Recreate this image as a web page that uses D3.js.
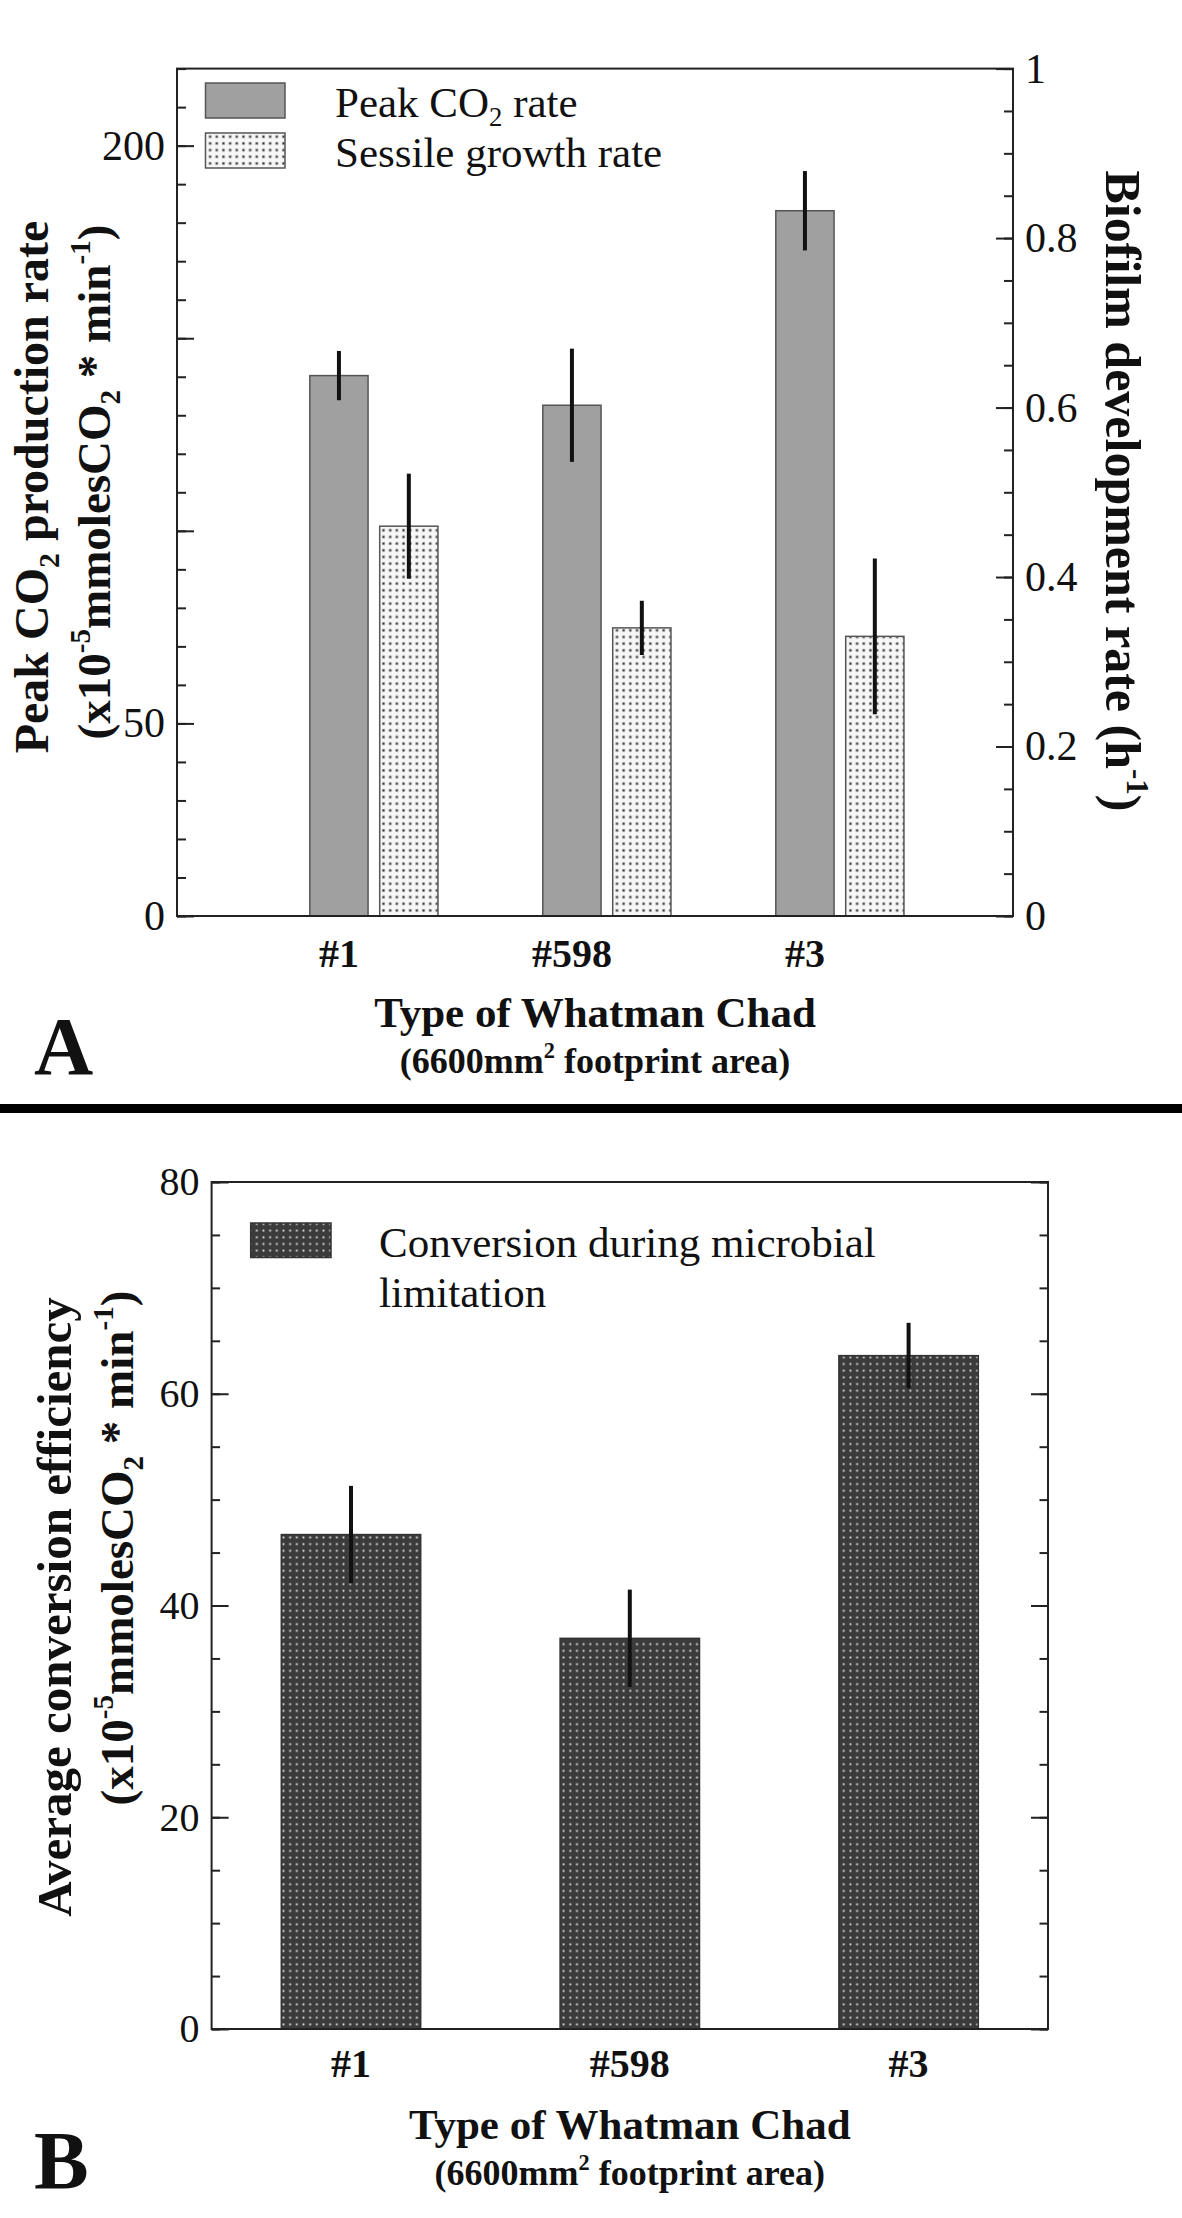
<!DOCTYPE html>
<html><head><meta charset="utf-8">
<script src="https://cdn.jsdelivr.net/npm/d3@7"></script>
<style>
html,body{margin:0;padding:0;background:#fff;}
svg{display:block;}
text{font-family:"Liberation Serif","Times New Roman",serif;fill:#111;}
</style></head><body>
<svg id="chart" width="1182" height="2218"></svg>
<script>
// ---------- data ----------
const categories = ["#1", "#598", "#3"];
const peakCO2Rate = [140.3, 132.6, 183.1];
const peakCO2Err = [6.4, 14.7, 10.3];
const sessileGrowthRate = [0.46, 0.34, 0.33];
const sessileGrowthErr = [0.062, 0.032, 0.092];
const conversionEff = [46.7, 36.9, 63.6];
const conversionErr = [4.6, 4.6, 3.1];
const leftMajorTicksA = [0, 50, 100, 150, 200];
const leftTickLabelsA = [0, 50, 200];
const rightTickLabelsA = [0, 0.2, 0.4, 0.6, 0.8, 1];
const tickLabelsB = [0, 20, 40, 60, 80];
const legendA = ["Peak CO2 rate", "Sessile growth rate"];
const legendB = ["Conversion during microbial", "limitation"];

const svg = d3.select("#chart");
const defs = svg.append("defs");

// patterns
const P = 6.67;
const pDot = defs.append("pattern").attr("id", "dotsLight").attr("patternUnits", "userSpaceOnUse")
  .attr("width", P).attr("height", P);
pDot.append("rect").attr("width", P).attr("height", P).attr("fill", "#f7f7f7");
pDot.append("rect").attr("x", P / 2 - 1.6).attr("y", P / 2 - 1.6).attr("width", 3.2).attr("height", 3.2).attr("fill", "#c4c4c4");
pDot.append("rect").attr("x", P / 2 - 0.9).attr("y", P / 2 - 0.9).attr("width", 1.8).attr("height", 1.8).attr("fill", "#222");

const pDark = defs.append("pattern").attr("id", "dotsDark").attr("patternUnits", "userSpaceOnUse")
  .attr("width", P).attr("height", P);
pDark.append("rect").attr("width", P).attr("height", P).attr("fill", "#3b3b3b");
pDark.append("rect").attr("x", P / 2 - 0.9).attr("y", P / 2 - 0.9).attr("width", 1.8).attr("height", 1.8).attr("fill", "#e8e8e8");

// rich text helper (sub / superscripts)
function rich(sel, parts, fs) {
  let shift = 0;
  parts.forEach(p => {
    const s = typeof p === "string" ? p : p[0];
    const kind = typeof p === "string" ? "n" : p[1];
    const target = kind === "sup" ? -0.42 * fs : kind === "sub" ? 0.22 * fs : 0;
    const t = sel.append("tspan").text(s);
    if (target - shift !== 0) t.attr("dy", target - shift);
    if (kind !== "n") t.attr("font-size", fs * 0.62);
    shift = target;
  });
}
const unitParts = ["(x10", ["-5", "sup"], "mmolesCO", ["2", "sub"], " * min", ["-1", "sup"], ")"];

// =============== PANEL A ===============
const A = {l: 177, r: 1013, t: 68.6, b: 916};
const xA = d3.scaleLinear().domain([-0.695, 2.893]).range([A.l, A.r]);
const yAL = d3.scaleLinear().domain([0, 220]).range([A.b, A.t]);
const yAR = d3.scaleLinear().domain([0, 1]).range([A.b, A.t]);
const bwA = xA(0.25) - xA(0);
const offA = 0.30;

const gA = svg.append("g");

// bars
gA.selectAll("rect.peak").data(peakCO2Rate).join("rect").attr("class", "peak")
  .attr("x", (d, i) => xA(i) - bwA / 2).attr("width", bwA)
  .attr("y", d => yAL(d)).attr("height", d => yAL(0) - yAL(d))
  .attr("fill", "#a0a0a0").attr("stroke", "#555").attr("stroke-width", 1.5);
gA.selectAll("rect.sess").data(sessileGrowthRate).join("rect").attr("class", "sess")
  .attr("x", (d, i) => xA(i + offA) - bwA / 2).attr("width", bwA)
  .attr("y", d => yAR(d)).attr("height", d => yAR(0) - yAR(d))
  .attr("fill", "url(#dotsLight)").attr("stroke", "#555").attr("stroke-width", 1.5);

// error bars
gA.selectAll("line.peakErr").data(peakCO2Rate).join("line").attr("class", "peakErr")
  .attr("x1", (d, i) => xA(i)).attr("x2", (d, i) => xA(i))
  .attr("y1", (d, i) => yAL(d - peakCO2Err[i])).attr("y2", (d, i) => yAL(d + peakCO2Err[i]))
  .attr("stroke", "#111").attr("stroke-width", 4);
gA.selectAll("line.sessErr").data(sessileGrowthRate).join("line").attr("class", "sessErr")
  .attr("x1", (d, i) => xA(i + offA)).attr("x2", (d, i) => xA(i + offA))
  .attr("y1", (d, i) => yAR(d - sessileGrowthErr[i])).attr("y2", (d, i) => yAR(d + sessileGrowthErr[i]))
  .attr("stroke", "#111").attr("stroke-width", 4);

// axes (inside ticks)
function styleAxis(g, fs) {
  g.select(".domain").remove();
  g.selectAll(".tick line").attr("stroke", "#222").attr("stroke-width", 2);
  g.selectAll(".tick text").attr("font-size", fs).attr("fill", "#111")
    .attr("font-family", "Liberation Serif, Times New Roman, serif");
}
gA.append("g").attr("transform", `translate(${A.l},0)`)
  .call(d3.axisLeft(yAL).tickValues(d3.range(0, 221, 10)).tickSizeInner(-9).tickSizeOuter(0).tickFormat(""))
  .call(g => styleAxis(g, 42));
gA.append("g").attr("transform", `translate(${A.l},0)`)
  .call(d3.axisLeft(yAL).tickValues(leftMajorTicksA).tickSizeInner(-17).tickSizeOuter(0).tickPadding(12)
    .tickFormat(d => leftTickLabelsA.includes(d) ? d3.format("d")(d) : ""))
  .call(g => styleAxis(g, 42));
gA.append("g").attr("transform", `translate(${A.r},0)`)
  .call(d3.axisRight(yAR).tickValues(d3.range(0, 1.001, 0.05)).tickSizeInner(-9).tickSizeOuter(0).tickFormat(""))
  .call(g => styleAxis(g, 42));
gA.append("g").attr("transform", `translate(${A.r},0)`)
  .call(d3.axisRight(yAR).tickValues(rightTickLabelsA).tickSizeInner(-17).tickSizeOuter(0).tickPadding(12)
    .tickFormat(d => d === 0 || d === 1 ? d3.format("d")(d) : d3.format(".1f")(d)))
  .call(g => styleAxis(g, 42));

// frame
gA.append("rect").attr("x", A.l).attr("y", A.t).attr("width", A.r - A.l).attr("height", A.b - A.t)
  .attr("fill", "none").attr("stroke", "#222").attr("stroke-width", 2);

// category labels
gA.selectAll("text.cat").data(categories).join("text").attr("class", "cat")
  .attr("x", (d, i) => xA(i)).attr("y", 967).attr("text-anchor", "middle")
  .attr("font-size", 40).attr("font-weight", "bold").text(d => d);

// legend
const legA = gA.append("g");
legA.append("rect").attr("x", 205.5).attr("y", 83).attr("width", 79.5).attr("height", 35)
  .attr("fill", "#a0a0a0").attr("stroke", "#555").attr("stroke-width", 1.5);
legA.append("rect").attr("x", 205.5).attr("y", 133).attr("width", 79.5).attr("height", 35)
  .attr("fill", "url(#dotsLight)").attr("stroke", "#555").attr("stroke-width", 1.5);
rich(legA.append("text").attr("x", 335).attr("y", 117).attr("font-size", 43),
  ["Peak CO", ["2", "sub"], " rate"], 43);
legA.append("text").attr("x", 335).attr("y", 167).attr("font-size", 43).text(legendA[1]);

// axis titles
rich(gA.append("text").attr("transform", "translate(48,487) rotate(-90)").attr("text-anchor", "middle")
  .attr("font-size", 48).attr("font-weight", "bold"), ["Peak CO", ["2", "sub"], " production rate"], 48);
rich(gA.append("text").attr("transform", "translate(110,482) rotate(-90)").attr("text-anchor", "middle")
  .attr("font-size", 47).attr("font-weight", "bold"), unitParts, 47);
rich(gA.append("text").attr("transform", "translate(1106,491) rotate(90)").attr("text-anchor", "middle")
  .attr("font-size", 50).attr("font-weight", "bold"), ["Biofilm development rate (h", ["-1", "sup"], ")"], 50);
gA.append("text").attr("x", (A.l + A.r) / 2).attr("y", 1027).attr("text-anchor", "middle")
  .attr("font-size", 43).attr("font-weight", "bold").text("Type of Whatman Chad");
rich(gA.append("text").attr("x", (A.l + A.r) / 2).attr("y", 1073).attr("text-anchor", "middle")
  .attr("font-size", 36).attr("font-weight", "bold"), ["(6600mm", ["2", "sup"], " footprint area)"], 36);
gA.append("text").attr("x", 34).attr("y", 1074).attr("font-size", 82).attr("font-weight", "bold").text("A");

// divider
svg.append("rect").attr("x", 0).attr("y", 1104).attr("width", 1182).attr("height", 9).attr("fill", "#000");

// =============== PANEL B ===============
const B = {l: 211.6, r: 1048, t: 1182, b: 2029};
const xB = d3.scaleBand().domain(categories).range([B.l, B.r]).paddingInner(0.5).paddingOuter(0.25);
const yB = d3.scaleLinear().domain([0, 80]).range([B.b, B.t]);
const gB = svg.append("g");

gB.selectAll("rect.conv").data(conversionEff).join("rect").attr("class", "conv")
  .attr("x", (d, i) => xB(categories[i])).attr("width", xB.bandwidth())
  .attr("y", d => yB(d)).attr("height", d => yB(0) - yB(d))
  .attr("fill", "url(#dotsDark)").attr("stroke", "#333").attr("stroke-width", 1.5);
gB.selectAll("line.convErr").data(conversionEff).join("line").attr("class", "convErr")
  .attr("x1", (d, i) => xB(categories[i]) + xB.bandwidth() / 2)
  .attr("x2", (d, i) => xB(categories[i]) + xB.bandwidth() / 2)
  .attr("y1", (d, i) => yB(d - conversionErr[i])).attr("y2", (d, i) => yB(d + conversionErr[i]))
  .attr("stroke", "#111").attr("stroke-width", 4);

gB.append("g").attr("transform", `translate(${B.l},0)`)
  .call(d3.axisLeft(yB).tickValues(d3.range(0, 81, 5)).tickSizeInner(-8.5).tickSizeOuter(0).tickFormat(""))
  .call(g => styleAxis(g, 40));
gB.append("g").attr("transform", `translate(${B.l},0)`)
  .call(d3.axisLeft(yB).tickValues(tickLabelsB).tickSizeInner(-17).tickSizeOuter(0).tickPadding(12).tickFormat(d3.format("d")))
  .call(g => styleAxis(g, 40));
gB.append("g").attr("transform", `translate(${B.r},0)`)
  .call(d3.axisRight(yB).tickValues(d3.range(0, 81, 5)).tickSizeInner(-8.5).tickSizeOuter(0).tickFormat(""))
  .call(g => styleAxis(g, 40));
gB.append("g").attr("transform", `translate(${B.r},0)`)
  .call(d3.axisRight(yB).tickValues(tickLabelsB).tickSizeInner(-17).tickSizeOuter(0).tickFormat(""))
  .call(g => styleAxis(g, 40));

gB.append("rect").attr("x", B.l).attr("y", B.t).attr("width", B.r - B.l).attr("height", B.b - B.t)
  .attr("fill", "none").attr("stroke", "#222").attr("stroke-width", 2);

gB.selectAll("text.cat").data(categories).join("text").attr("class", "cat")
  .attr("x", d => xB(d) + xB.bandwidth() / 2).attr("y", 2077).attr("text-anchor", "middle")
  .attr("font-size", 40).attr("font-weight", "bold").text(d => d);

// legend B
gB.append("rect").attr("x", 250.7).attr("y", 1223).attr("width", 80.3).attr("height", 34.5)
  .attr("fill", "url(#dotsDark)").attr("stroke", "#333").attr("stroke-width", 1.5);
gB.selectAll("text.leg").data(legendB).join("text").attr("class", "leg")
  .attr("x", 379).attr("y", (d, i) => 1257 + i * 50).attr("font-size", 43).text(d => d);

// titles B
gB.append("text").attr("transform", "translate(71,1607) rotate(-90)").attr("text-anchor", "middle")
  .attr("font-size", 49).attr("font-weight", "bold").text("Average conversion efficiency");
rich(gB.append("text").attr("transform", "translate(133,1548) rotate(-90)").attr("text-anchor", "middle")
  .attr("font-size", 47).attr("font-weight", "bold"), unitParts, 47);
gB.append("text").attr("x", (B.l + B.r) / 2).attr("y", 2139).attr("text-anchor", "middle")
  .attr("font-size", 43).attr("font-weight", "bold").text("Type of Whatman Chad");
rich(gB.append("text").attr("x", (B.l + B.r) / 2).attr("y", 2185).attr("text-anchor", "middle")
  .attr("font-size", 36).attr("font-weight", "bold"), ["(6600mm", ["2", "sup"], " footprint area)"], 36);
gB.append("text").attr("x", 34).attr("y", 2188).attr("font-size", 82).attr("font-weight", "bold").text("B");
</script>
</body></html>
